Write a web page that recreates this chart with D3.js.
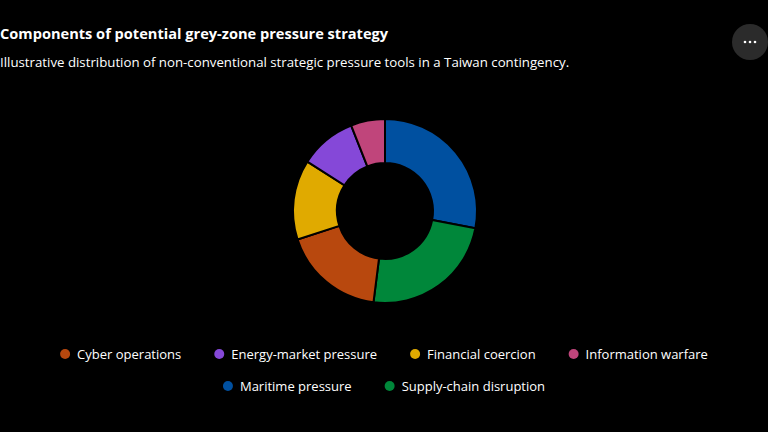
<!DOCTYPE html>
<html>
<head>
<meta charset="utf-8">
<script src="https://cdn.jsdelivr.net/npm/d3@7"></script>
<style>
  body { margin: 0; background: #000; }
  svg { display: block; }
</style>
</head>
<body>
<script>
// chart data
var categories = ['Maritime pressure', 'Supply-chain disruption', 'Cyber operations',
                  'Financial coercion', 'Energy-market pressure', 'Information warfare'];
var shares = [28, 24, 18, 14, 10, 6];
var sliceColors = ['#0050a0', '#00873a', '#b8480e', '#e0aa00', '#8548d8', '#c0457b'];

// legend is listed alphabetically, in two rows
var legendRows = [
  ['Cyber operations', 'Energy-market pressure', 'Financial coercion', 'Information warfare'],
  ['Maritime pressure', 'Supply-chain disruption']
];

var width = 768, height = 432;
var cx = 385, cy = 211, outerR = 92, innerR = 48;
var font = "'Open Sans', 'Noto Sans', sans-serif";

var svg = d3.select('body').append('svg')
    .attr('width', width)
    .attr('height', height);

svg.append('rect').attr('width', width).attr('height', height).attr('fill', '#000');

// title + subtitle
svg.append('text')
    .attr('x', 0).attr('y', 39)
    .attr('fill', '#fff')
    .attr('font-family', font)
    .attr('font-size', 14.6)
    .attr('font-weight', 700)
    .text('Components of potential grey-zone pressure strategy');

svg.append('text')
    .attr('x', 0).attr('y', 67)
    .attr('fill', '#fff')
    .attr('font-family', font)
    .attr('font-size', 13.25)
    .text('Illustrative distribution of non-conventional strategic pressure tools in a Taiwan contingency.');

// the "..." menu button
var btn = svg.append('g').attr('transform', 'translate(750,42)');
btn.append('circle').attr('r', 18).attr('fill', '#2b2b2b');
btn.selectAll('circle.dot')
    .data([-5, 0, 5])
    .enter().append('circle')
    .attr('class', 'dot')
    .attr('cx', function (d) { return d; })
    .attr('r', 1.3)
    .attr('fill', '#fff');

var color = d3.scaleOrdinal().domain(categories).range(sliceColors);

var pie = d3.pie()
    .sort(null)
    .value(function (d) { return d.value; });

var arc = d3.arc().innerRadius(innerR).outerRadius(outerR);

var data = categories.map(function (c, i) { return { name: c, value: shares[i] }; });

svg.append('g')
    .attr('transform', 'translate(' + cx + ',' + cy + ')')
    .selectAll('path')
    .data(pie(data))
    .enter().append('path')
    .attr('d', arc)
    .attr('fill', function (d) { return color(d.data.name); })
    .attr('stroke', '#000')
    .attr('stroke-width', 2);

// legend
var legendY = [354, 386];
var legendGap = 33;

legendRows.forEach(function (row, ri) {
    var g = svg.append('g');
    var x = 0;
    row.forEach(function (name) {
        var item = g.append('g');
        item.append('circle')
            .attr('cx', 5).attr('cy', 0).attr('r', 5)
            .attr('fill', color(name));
        var t = item.append('text')
            .attr('x', 17).attr('y', 0)
            .attr('dy', '0.35em')
            .attr('fill', '#fff')
            .attr('font-family', font)
            .attr('font-size', 13)
            .text(name);
        var w = 17 + t.node().getComputedTextLength();
        item.attr('transform', 'translate(' + x + ',' + legendY[ri] + ')');
        x += w + legendGap;
    });
    var total = x - legendGap;
    g.attr('transform', 'translate(' + ((width - total) / 2) + ',0)');
});
</script>
</body>
</html>
